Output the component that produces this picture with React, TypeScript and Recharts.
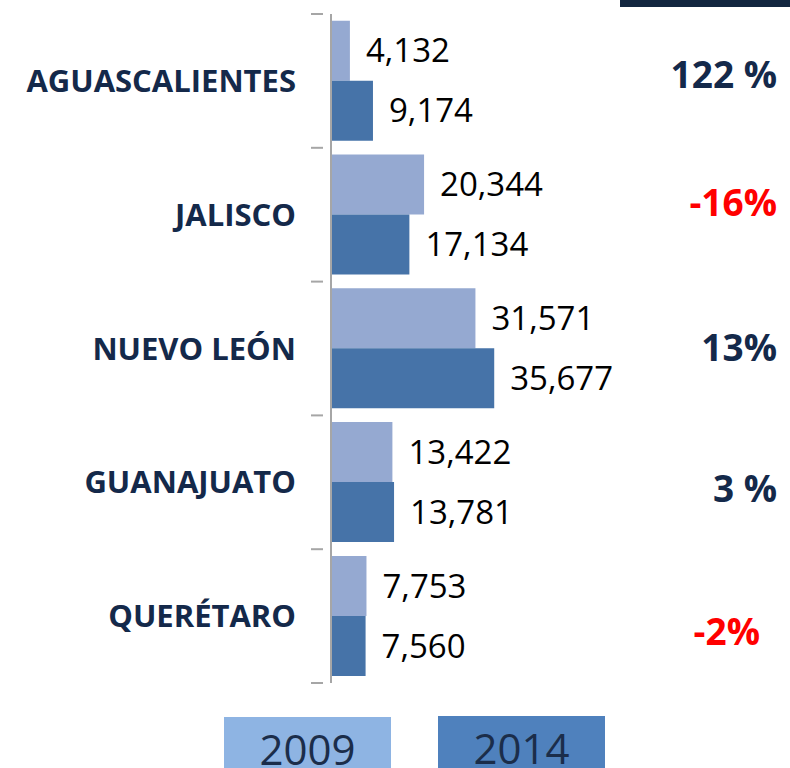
import React from 'react';
import { BarChart, Bar, XAxis, YAxis, LabelList } from 'recharts';

const states = ['AGUASCALIENTES', 'JALISCO', 'NUEVO LEÓN', 'GUANAJUATO', 'QUERÉTARO'];
const values2009 = [4132, 20344, 31571, 13422, 7753];
const values2014 = [9174, 17134, 35677, 13781, 7560];
const changeLabels = ['122 %', '-16%', '13%', '3 %', '-2%'];
const years = ['2009', '2014'];

const NAVY = '#14294A';
const BAR_2009 = '#95A9D1';
const BAR_2014 = '#4673A8';
const AXIS_GREY = '#A6A6A6';

// small nudges so the % labels sit where they do in the original slide
const pctDy = [-7, -13, -2, 5, 14];
const pctRight = [777, 777, 777, 777, 760];

const data = states.map((name, i) => ({
  name,
  y2009: values2009[i],
  y2014: values2014[i],
  change: changeLabels[i],
}));

const fmt = (v: any) => Number(v).toLocaleString('en-US');

const StateTick = (props: any) => {
  const { x, y, payload } = props;
  const i = props.index ?? states.indexOf(payload.value);
  const half = payload.offset ?? 67;
  const pct = changeLabels[i];
  const negative = pct.trim().startsWith('-');
  return (
    <g>
      <line x1={x} x2={x - 12} y1={y - half} y2={y - half} stroke={AXIS_GREY} strokeWidth={2} />
      {i === states.length - 1 && (
        <line x1={x} x2={x - 12} y1={y + half} y2={y + half} stroke={AXIS_GREY} strokeWidth={2} />
      )}
      <text
        x={296}
        y={y - 1}
        textAnchor="end"
        dominantBaseline="central"
        fontFamily="Open Sans"
        fontWeight={700}
        fontSize={31}
        fill={NAVY}
      >
        {payload.value}
      </text>
      <text
        x={pctRight[i]}
        y={y + pctDy[i]}
        textAnchor="end"
        dominantBaseline="central"
        fontFamily="Open Sans"
        fontWeight={700}
        fontSize={37}
        fill={negative ? '#FF0000' : NAVY}
      >
        {pct}
      </text>
    </g>
  );
};

const legendBoxes = [
  { left: 224, top: 717, color: '#8EB4E3' },
  { left: 438, top: 716, color: '#4F81BD' },
];

export default function App() {
  return (
    <div style={{ position: 'absolute', left: 0, top: 0, width: 790, height: 768, background: '#fff', overflow: 'hidden' }}>
      <div style={{ position: 'absolute', left: 620, top: 0, width: 170, height: 7, background: '#12263F' }} />
      <BarChart
        width={790}
        height={768}
        data={data}
        layout="vertical"
        margin={{ top: 14, right: 276, bottom: 85, left: 0 }}
        barCategoryGap="5%"
        barGap={0}
      >
        <XAxis type="number" hide domain={[0, 40000]} />
        <YAxis
          type="category"
          dataKey="name"
          width={331}
          axisLine={{ stroke: AXIS_GREY, strokeWidth: 2 }}
          tickLine={false}
          tick={<StateTick />}
          interval={0}
        />
        <Bar dataKey="y2009" fill={BAR_2009} isAnimationActive={false}>
          <LabelList dataKey="y2009" position="right" offset={16} formatter={fmt} fill="#000" fontSize={33} fontFamily="Open Sans" />
        </Bar>
        <Bar dataKey="y2014" fill={BAR_2014} isAnimationActive={false}>
          <LabelList dataKey="y2014" position="right" offset={16} formatter={fmt} fill="#000" fontSize={33} fontFamily="Open Sans" />
        </Bar>
      </BarChart>
      {years.map((year, i) => (
        <div
          key={year}
          style={{
            position: 'absolute',
            left: legendBoxes[i].left,
            top: legendBoxes[i].top,
            width: 167,
            height: 60,
            background: legendBoxes[i].color,
          }}
        >
          <span
            style={{
              position: 'absolute',
              left: 0,
              right: 0,
              top: 3,
              textAlign: 'center',
              fontFamily: 'Open Sans',
              fontSize: 42,
              lineHeight: 'normal',
              color: '#1B2D4A',
            }}
          >
            {year}
          </span>
        </div>
      ))}
    </div>
  );
}
